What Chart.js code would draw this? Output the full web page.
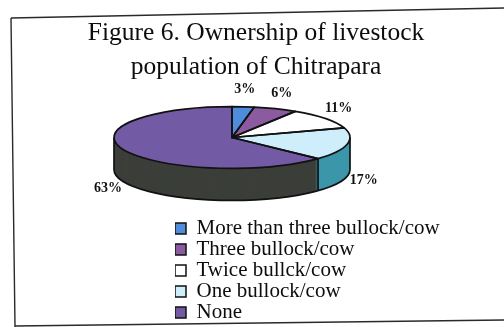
<!DOCTYPE html>
<html>
<head>
<meta charset="utf-8">
<script src="https://cdn.jsdelivr.net/npm/chart.js@4/dist/chart.umd.min.js"></script>
<style>
  html, body { margin: 0; padding: 0; background: #ffffff; }
  #wrap { width: 504px; height: 327px; position: relative; }
</style>
</head>
<body>
<div id="wrap"><canvas id="c"></canvas></div>
<script>
// Livestock ownership shares (percent of households)
const categories = ['More than three bullock/cow', 'Three bullock/cow', 'Twice bullck/cow', 'One bullock/cow', 'None'];
const shares = [3, 6, 11, 17, 63];
const titleLines = ['Figure 6. Ownership of livestock', 'population of Chitrapara'];

// Face and rim colours of each slice
const topColors = ['#4f8cdc', '#8c5aa0', '#ffffff', '#cdeefa', '#735aa5'];
const sideColors = ['#2f5f9e', '#5c3a6a', '#c8c8c8', '#3c96aa', '#3b3e39'];

// Look of the tilted, extruded pie
const pie3d = { tilt: 0.262, depth: 32, shiftX: -24, shiftY: -66, edge: '#111111', edgeWidth: 1.7, labelGap: 17 };
const legendIndent = 167;

const tiltedPie = {
  id: 'tiltedPie',
  afterLayout(chart) {
    // keep the legend under the pie, indented from the left edge
    const lg = chart.legend, area = chart.chartArea;
    if (!lg) return;
    lg.left = area.left + legendIndent;
    lg.right = chart.width;
    lg.top = area.top;
    lg.bottom = area.bottom;
    lg.width = lg.right - lg.left;
    lg.height = lg.bottom - lg.top;
  },
  beforeDraw(chart) {
    // page frame around the figure
    const ctx = chart.ctx;
    ctx.save();
    ctx.strokeStyle = '#2a2a2a';
    ctx.lineWidth = 1.4;
    ctx.beginPath();
    ctx.moveTo(11, 18); ctx.lineTo(504, 8);
    ctx.moveTo(11, 18); ctx.lineTo(15, 327);
    ctx.moveTo(15, 326); ctx.lineTo(504, 320);
    ctx.stroke();
    ctx.restore();
  },
  beforeDatasetsDraw(chart) {
    const ctx = chart.ctx;
    const arcs = chart.getDatasetMeta(0).data;
    if (!arcs.length) return false;
    const ds = chart.data.datasets[0];
    const a0 = arcs[0];
    const R = a0.outerRadius;
    const cx = a0.x + pie3d.shiftX;
    const cy = a0.y + pie3d.shiftY;
    const ry = R * pie3d.tilt;
    const depth = pie3d.depth;

    // draw one arc element squashed into an ellipse, dy pixels down
    const paint = (arc, color, dy) => {
      const p = Object.create(arc);
      p.options = Object.assign({}, arc.options, { backgroundColor: color, borderWidth: 0 });
      ctx.save();
      ctx.translate(cx, cy + dy);
      ctx.scale(1, pie3d.tilt);
      ctx.translate(-arc.x, -arc.y);
      p.draw(ctx);
      ctx.restore();
    };

    // rim: stacked layers, deepest first
    for (let s = depth; s >= 1; s--) {
      arcs.forEach((arc, i) => paint(arc, sideColors[i], s));
    }
    // top face
    arcs.forEach((arc, i) => paint(arc, topColors[i], 0));

    // outlines
    ctx.save();
    ctx.strokeStyle = pie3d.edge;
    ctx.lineWidth = pie3d.edgeWidth;
    ctx.lineJoin = 'round';
    arcs.forEach(arc => {
      ctx.beginPath();
      ctx.ellipse(cx, cy, R, ry, 0, arc.startAngle, arc.endAngle);
      ctx.lineTo(cx, cy);
      ctx.closePath();
      ctx.stroke();
    });
    ctx.beginPath();
    ctx.ellipse(cx, cy + depth, R, ry, 0, 0, Math.PI);
    const edges = [0, Math.PI];
    arcs.forEach(arc => {
      let a = arc.startAngle % (2 * Math.PI);
      if (a < 0) a += 2 * Math.PI;
      if (a > 0.001 && a < Math.PI - 0.001) edges.push(a);
    });
    edges.forEach(a => {
      const x = cx + R * Math.cos(a), y = cy + ry * Math.sin(a);
      ctx.moveTo(x, y);
      ctx.lineTo(x, y + depth);
    });
    ctx.stroke();

    // percentage labels outside the rim
    ctx.font = 'bold 14px "Liberation Serif"';
    ctx.fillStyle = '#111111';
    ctx.textAlign = 'center';
    ctx.textBaseline = 'middle';
    arcs.forEach((arc, i) => {
      const mid = (arc.startAngle + arc.endAngle) / 2;
      const c = Math.cos(mid), sn = Math.sin(mid);
      const x = cx + (R + pie3d.labelGap) * c;
      const y = cy + ry * sn + pie3d.labelGap * sn + (sn > 0 ? depth : 0);
      ctx.fillText(ds.data[i] + '%', x, y);
    });
    ctx.restore();
    return false;
  }
};

new Chart(document.getElementById('c'), {
  type: 'pie',
  data: {
    labels: categories,
    datasets: [{
      data: shares,
      backgroundColor: topColors,
      borderColor: '#111111',
      borderWidth: 1.5,
      radius: 118
    }]
  },
  options: {
    responsive: true,
    maintainAspectRatio: false,
    animation: false,
    layout: { padding: { left: 8, right: 0, top: 0, bottom: 4 } },
    plugins: {
      tooltip: { enabled: false },
      title: {
        display: true,
        text: titleLines,
        color: '#0d0d0d',
        font: { family: 'Liberation Serif', size: 25.5, weight: 'normal', lineHeight: '34px' },
        padding: { top: 16, bottom: 0 }
      },
      legend: {
        position: 'chartArea',
        fullSize: false,
        align: 'end',
        labels: {
          boxWidth: 11,
          boxHeight: 11,
          padding: 0,
          color: '#0d0d0d',
          font: { family: 'Liberation Serif', size: 21 }
        }
      }
    }
  },
  plugins: [tiltedPie]
});
</script>
</body>
</html>
